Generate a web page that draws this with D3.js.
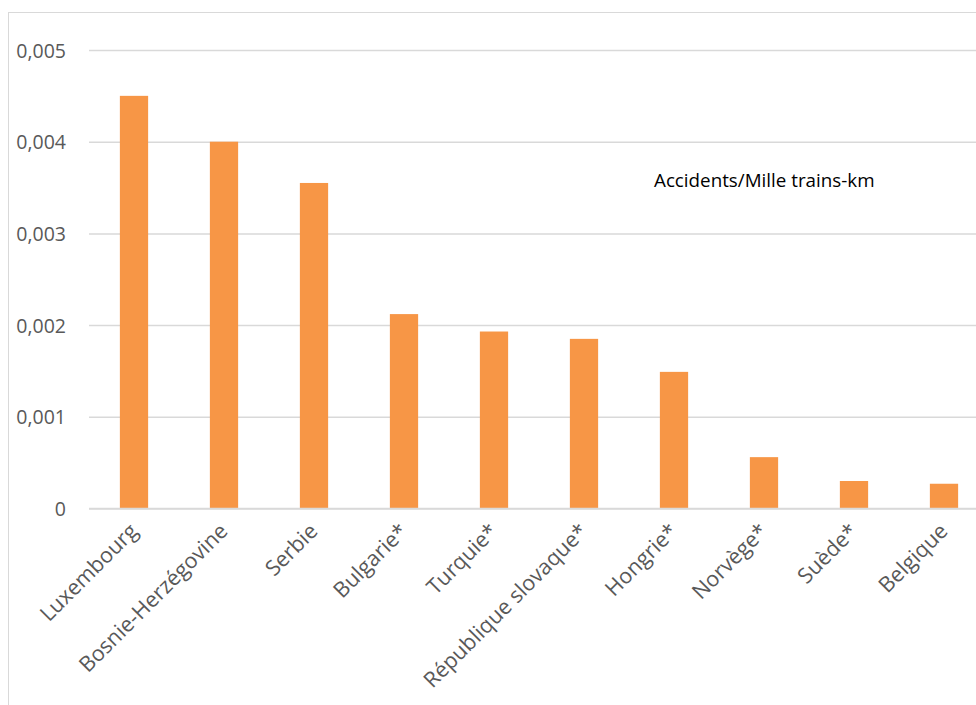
<!DOCTYPE html>
<html>
<head>
<meta charset="utf-8">
<script src="https://cdn.jsdelivr.net/npm/d3@7"></script>
<style>
  html, body { margin: 0; padding: 0; background: #fff; }
  svg { display: block; }
  text { font-family: "Open Sans", sans-serif; }
</style>
</head>
<body>
<svg id="chart" width="976" height="705"></svg>
<script>
const categories = ["Luxembourg", "Bosnie-Herzégovine", "Serbie", "Bulgarie*", "Turquie*",
  "République slovaque*", "Hongrie*", "Norvège*", "Suède*", "Belgique"];
const values = [0.0045, 0.0040, 0.00355, 0.00212, 0.00193, 0.00185, 0.00149, 0.00056, 0.00030, 0.00027];
const tickValues = [0, 0.001, 0.002, 0.003, 0.004, 0.005];
const tickLabels = ["0", "0,001", "0,002", "0,003", "0,004", "0,005"];
const seriesLabel = "Accidents/Mille trains-km";

const svg = d3.select("#chart");

// chart area border
svg.append("rect")
  .attr("x", 8.5).attr("y", 12.5)
  .attr("width", 1100).attr("height", 1000)
  .attr("fill", "none").attr("stroke", "#d9d9d9").attr("stroke-width", 1);

const x = d3.scaleBand()
  .domain(categories)
  .range([89, 989])
  .paddingInner(0.686)
  .paddingOuter(0.343);

const y = d3.scaleLinear()
  .domain([0, 0.005])
  .range([508.5, 50]);

// gridlines
const grid = svg.append("g")
  .attr("transform", "translate(89,0)")
  .call(d3.axisLeft(y).tickValues(tickValues).tickSize(-900).tickFormat(""));
grid.select(".domain").remove();
grid.selectAll(".tick line").attr("stroke", "#d9d9d9").attr("stroke-width", 1.5);

// y labels
const yAxis = svg.append("g")
  .attr("transform", "translate(66,0)")
  .call(d3.axisLeft(y).tickValues(tickValues).tickSize(0).tickPadding(0)
    .tickFormat((d, i) => tickLabels[i]));
yAxis.select(".domain").remove();
yAxis.selectAll("text")
  .attr("font-family", "Open Sans")
  .attr("font-size", "19.5px")
  .attr("fill", "#595959")
  .attr("dy", "0.36em");

// bars
svg.append("g").selectAll("rect")
  .data(values)
  .join("rect")
  .attr("x", (d, i) => x(categories[i]))
  .attr("y", d => y(d))
  .attr("width", x.bandwidth())
  .attr("height", d => y(0) - y(d))
  .attr("fill", "#F79646");

// x axis
const xAxis = svg.append("g")
  .attr("transform", `translate(0,${y(0)})`)
  .call(d3.axisBottom(x).tickSize(0).tickPadding(0));
xAxis.select(".domain").attr("stroke", "#d9d9d9").attr("stroke-width", 1.5)
  .attr("d", "M89,0H989");
xAxis.selectAll("text")
  .attr("font-family", "Open Sans")
  .attr("font-size", "21.5px")
  .attr("fill", "#595959")
  .attr("text-anchor", "end")
  .attr("dy", null)
  .attr("y", 0)
  .attr("transform", "translate(5,24) rotate(-45)");

// series label
svg.append("text")
  .attr("x", 654).attr("y", 187)
  .attr("font-family", "Open Sans")
  .attr("font-size", "18.8px")
  .attr("fill", "#000")
  .text(seriesLabel);
</script>
</body>
</html>
